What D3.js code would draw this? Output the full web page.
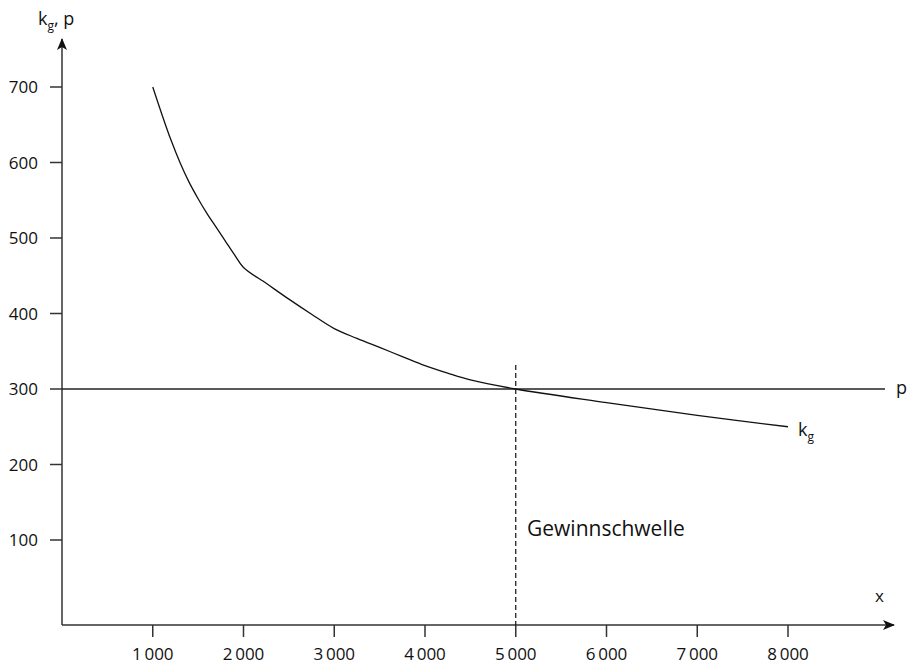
<!DOCTYPE html>
<html>
<head>
<meta charset="utf-8">
<script src="https://cdn.jsdelivr.net/npm/d3@7"></script>
<style>
body{margin:0;background:#fff;}
text{font-family:"Open Sans",sans-serif;fill:#111;}
</style>
</head>
<body>
<div id="plot"></div>
<script>
//Data;
const xVals=[1000,1100,1200,1300,1400,1500,1600,1700,1800,1900,2000,2250,2500,2750,3000,3250,3500,3750,4000,4250,4500,5000,6000,7000,8000];
const kgVals=[700,664,630,600,574,552,532,514,496,478,461,440,419,399,380,367,355,343,331,321,312,300,282,265,250];
const price=300;
const breakEven=5000;
const xTicks=[1000,2000,3000,4000,5000,6000,7000,8000];
const xTickLabels=["1\u2009000","2\u2009000","3\u2009000","4\u2009000","5\u2009000","6\u2009000","7\u2009000","8\u2009000"];
const yTicks=[100,200,300,400,500,600,700];

//Size;
const w=907;
const h=664;

const svg=d3.select("#plot")
			.append("svg")
			  .attr("width",w)
			  .attr("height",h);

//Scales;
let x=d3.scaleLinear().domain([0,8000]).range([62,788]);
let y=d3.scaleLinear().domain([0,700]).range([615.5,87]);

const axisY=625;
const axisCol="#333";

//Arrow marker;
svg.append("defs").append("marker")
	.attr("id","arr")
	.attr("viewBox","0 0 12 10")
	.attr("refX",11).attr("refY",5)
	.attr("markerWidth",12).attr("markerHeight",10)
	.attr("markerUnits","userSpaceOnUse")
	.attr("orient","auto")
  .append("path")
	.attr("d","M0,0 L12,5 L0,10 L3,5 Z")
	.attr("fill","#111");

//Axes;
svg.append("line")
	.attr("x1",x(0)).attr("y1",axisY)
	.attr("x2",894).attr("y2",axisY)
	.attr("stroke",axisCol).attr("stroke-width",1.5)
	.attr("marker-end","url(#arr)");

svg.append("line")
	.attr("x1",x(0)).attr("y1",axisY)
	.attr("x2",x(0)).attr("y2",39)
	.attr("stroke",axisCol).attr("stroke-width",1.5)
	.attr("marker-end","url(#arr)");

//X ticks;
svg.selectAll(".xt")
	.data(xTicks)
	.enter()
  .append("line")
	.attr("class","xt")
	.attr("x1",function(d){ return x(d); })
	.attr("x2",function(d){ return x(d); })
	.attr("y1",axisY).attr("y2",axisY+12)
	.attr("stroke",axisCol).attr("stroke-width",1.5);

svg.selectAll(".xl")
	.data(xTicks)
	.enter()
  .append("text")
	.attr("class","xl")
	.attr("x",function(d){ return x(d); })
	.attr("y",660)
	.attr("text-anchor","middle")
	.style("font-size","17px")
	.text(function(d,i){ return xTickLabels[i]; });

//Y ticks;
svg.selectAll(".yt")
	.data(yTicks)
	.enter()
  .append("line")
	.attr("class","yt")
	.attr("x1",x(0)-12).attr("x2",x(0))
	.attr("y1",function(d){ return y(d); })
	.attr("y2",function(d){ return y(d); })
	.attr("stroke",axisCol).attr("stroke-width",1.5);

svg.selectAll(".yl")
	.data(yTicks)
	.enter()
  .append("text")
	.attr("class","yl")
	.attr("x",38)
	.attr("y",function(d){ return y(d)+6; })
	.attr("text-anchor","end")
	.style("font-size","17px")
	.text(function(d){ return d; });

//Price line;
svg.append("line")
	.attr("x1",x(0)).attr("x2",885)
	.attr("y1",y(price)).attr("y2",y(price))
	.attr("stroke","#222").attr("stroke-width",1.3);

//Break-even dashed line;
svg.append("line")
	.attr("x1",x(breakEven)).attr("x2",x(breakEven))
	.attr("y1",365).attr("y2",axisY)
	.attr("stroke","#111").attr("stroke-width",1.2)
	.attr("stroke-dasharray","5,3");

//Cost curve;
let line=d3.line()
	.x(function(d,i){ return x(xVals[i]); })
	.y(function(d){ return y(d); })
	.curve(d3.curveCatmullRom.alpha(0.5));

svg.append("path")
	.attr("d",line(kgVals))
	.attr("fill","none")
	.attr("stroke","#111")
	.attr("stroke-width",1.3);

//Labels;
let yLab=svg.append("text").attr("x",38).attr("y",25).style("font-size","18px");
yLab.append("tspan").text("k");
yLab.append("tspan").attr("dy",5).style("font-size","12px").text("g");
yLab.append("tspan").attr("dy",-5).text(", p");

svg.append("text").attr("x",875).attr("y",602).style("font-size","17px").text("x");
svg.append("text").attr("x",896).attr("y",394).style("font-size","18px").text("p");

let kgLab=svg.append("text").attr("x",798).attr("y",436).style("font-size","18px");
kgLab.append("tspan").text("k");
kgLab.append("tspan").attr("dy",5).style("font-size","12px").text("g");

svg.append("text")
	.attr("x",527).attr("y",536)
	.style("font-size","21px")
	.text("Gewinnschwelle");
</script>
</body>
</html>
